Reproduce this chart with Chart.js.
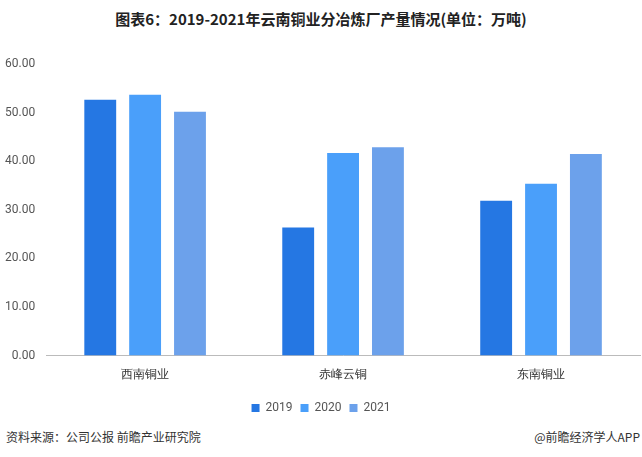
<!DOCTYPE html>
<html>
<head>
<meta charset="utf-8">
<script src="https://cdn.jsdelivr.net/npm/chart.js@4/dist/chart.umd.min.js"></script>
<style>
    body { margin: 0; background: #fff; font-family: "Noto Sans CJK SC", sans-serif; }
    .wrap { position: relative; width: 642px; height: 457px; }
    .title { position: absolute; top: 8px; left: 0; width: 642px; text-align: center; font-size: 15px; font-weight: bold; color: #222; }
    .box { position: absolute; top: 54px; left: 0; width: 642px; height: 370px; }
    .foot { position: absolute; top: 428px; font-size: 12px; color: #333; }
</style>
</head>
<body>
<div class="wrap">
    <div class="title">图表6：2019-2021年云南铜业分冶炼厂产量情况(单位：万吨)</div>
    <div class="box"><canvas id="chart"></canvas></div>
    <div class="foot" style="left:6px">资料来源：公司公报 前瞻产业研究院</div>
    <div class="foot" style="right:2px">@前瞻经济学人APP</div>
</div>
<script>
const categories = ['西南铜业', '赤峰云铜', '东南铜业'];
const values2019 = [52.7, 26.4, 31.9];
const values2020 = [53.7, 41.7, 35.4];
const values2021 = [50.2, 42.9, 41.5];
const yTicks = [0, 10, 20, 30, 40, 50, 60];

document.addEventListener('DOMContentLoaded', function () {
    const ctx = document.getElementById('chart');
    new Chart(ctx, {
        type: 'bar',
        data: {
            labels: categories,
            datasets: [
                { label: '2019', data: values2019, backgroundColor: '#2577E3' },
                { label: '2020', data: values2020, backgroundColor: '#4A9FFA' },
                { label: '2021', data: values2021, backgroundColor: '#6CA1EB' }
            ]
        },
        options: {
            responsive: true,
            maintainAspectRatio: false,
            animation: false,
            datasets: { bar: { categoryPercentage: 0.68, barPercentage: 0.71 } },
            layout: { padding: { left: 2, right: 2, top: 4 } },
            plugins: {
                legend: {
                    position: 'bottom',
                    labels: { boxWidth: 8, boxHeight: 8, padding: 8, color: '#555', font: { size: 12, family: 'Roboto, sans-serif' } }
                },
                tooltip: { enabled: false }
            },
            scales: {
                x: {
                    grid: { display: false, drawTicks: false },
                    border: { color: '#bbb' },
                    ticks: { color: '#333', font: { size: 12 }, padding: 12 }
                },
                y: {
                    min: 0,
                    max: 60,
                    afterBuildTicks: axis => { axis.ticks = yTicks.map(v => ({ value: v })); },
                    grid: { display: false },
                    border: { display: false },
                    ticks: { color: '#555', font: { size: 12, family: 'Roboto, sans-serif' }, padding: 3, callback: v => v.toFixed(2) }
                }
            }
        }
    });
});
</script>
</body>
</html>
